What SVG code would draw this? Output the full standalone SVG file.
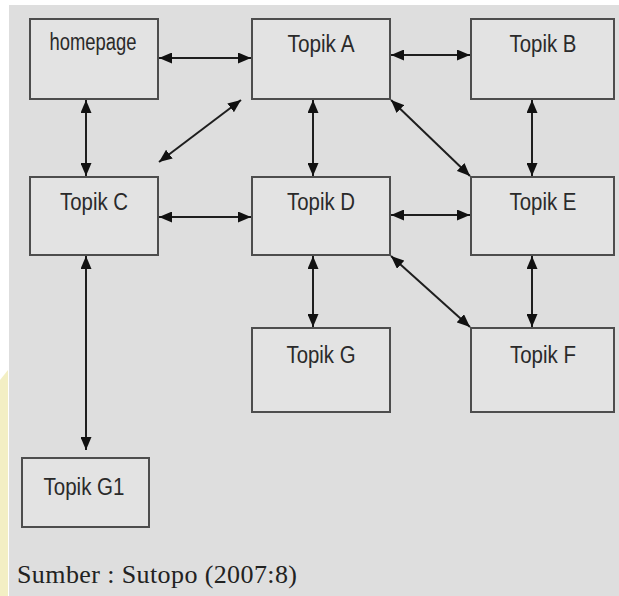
<svg xmlns="http://www.w3.org/2000/svg" width="619" height="596" viewBox="0 0 619 596">
<defs>
<style>
.box{fill:#e3e3e3;stroke:#4d4d4d;stroke-width:2}
.lbl{font-family:"Liberation Sans",Arial,sans-serif;font-size:23px;fill:#2a2a2a;text-anchor:middle}
.edge{stroke:#1e1e1e;stroke-width:2;fill:none;marker-start:url(#ah);marker-end:url(#ah)}
</style>
<marker id="ah" viewBox="0 0 13 11" refX="13" refY="5.5" markerWidth="13" markerHeight="11" markerUnits="userSpaceOnUse" orient="auto-start-reverse">
<path d="M0,0 L13,5.5 L0,11 Z" fill="#111"/>
</marker>
</defs>
<rect x="0" y="0" width="619" height="596" fill="#ffffff"/>
<rect x="9" y="5" width="610" height="591" fill="#dedede"/>
<path d="M0,380 L8,370 L8,596 L0,596 Z" fill="#f3efc4"/>
<g id="connectors">
<line class="edge" x1="159" y1="58" x2="251" y2="58"/>
<line class="edge" x1="391" y1="55" x2="470" y2="55"/>
<line class="edge" x1="86" y1="100" x2="86" y2="176"/>
<line class="edge" x1="241" y1="100" x2="159" y2="162"/>
<line class="edge" x1="313" y1="100" x2="313" y2="176"/>
<line class="edge" x1="391" y1="100" x2="470" y2="176"/>
<line class="edge" x1="532" y1="100" x2="532" y2="176"/>
<line class="edge" x1="159" y1="217" x2="251" y2="217"/>
<line class="edge" x1="391" y1="215" x2="470" y2="215"/>
<line class="edge" x1="86" y1="256" x2="86" y2="450"/>
<line class="edge" x1="313" y1="256" x2="313" y2="327"/>
<line class="edge" x1="391" y1="256" x2="470" y2="327"/>
<line class="edge" x1="532" y1="256" x2="532" y2="327"/>
</g>
<g id="homepage"><rect class="box" x="30" y="19" width="128" height="80"/><text class="lbl" x="93" y="50" font-size="20" textLength="87" lengthAdjust="spacingAndGlyphs">homepage</text></g>
<g id="topikA"><rect class="box" x="252" y="19" width="138" height="80"/><text class="lbl" x="321" y="52" textLength="67" lengthAdjust="spacingAndGlyphs">Topik A</text></g>
<g id="topikB"><rect class="box" x="471" y="19" width="143" height="80"/><text class="lbl" x="543" y="52" textLength="67" lengthAdjust="spacingAndGlyphs">Topik B</text></g>
<g id="topikC"><rect class="box" x="30" y="177" width="128" height="78"/><text class="lbl" x="94" y="210" textLength="68" lengthAdjust="spacingAndGlyphs">Topik C</text></g>
<g id="topikD"><rect class="box" x="252" y="177" width="138" height="78"/><text class="lbl" x="321" y="210" textLength="68" lengthAdjust="spacingAndGlyphs">Topik D</text></g>
<g id="topikE"><rect class="box" x="471" y="177" width="143" height="78"/><text class="lbl" x="543" y="210" textLength="67" lengthAdjust="spacingAndGlyphs">Topik E</text></g>
<g id="topikG"><rect class="box" x="252" y="328" width="138" height="84"/><text class="lbl" x="321" y="363" textLength="69" lengthAdjust="spacingAndGlyphs">Topik G</text></g>
<g id="topikF"><rect class="box" x="471" y="328" width="143" height="84"/><text class="lbl" x="543" y="363" textLength="66" lengthAdjust="spacingAndGlyphs">Topik F</text></g>
<g id="topikG1"><rect class="box" x="22" y="458" width="127" height="69"/><text class="lbl" x="84" y="495" textLength="81" lengthAdjust="spacingAndGlyphs">Topik G1</text></g>
<text x="17" y="583" font-family="'Liberation Serif','Times New Roman',serif" font-size="26" fill="#222" textLength="280" lengthAdjust="spacing">Sumber : Sutopo (2007:8)</text>
</svg>
